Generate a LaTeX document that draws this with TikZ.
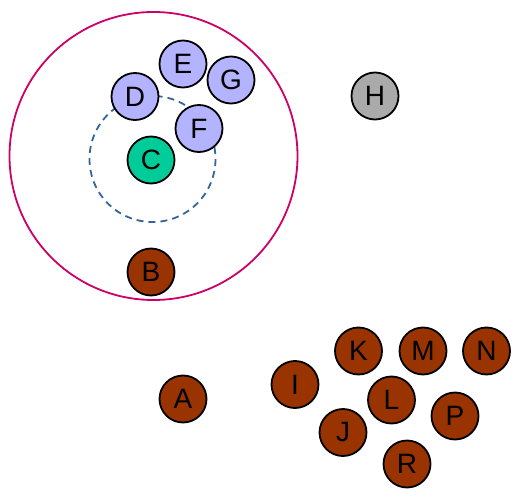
\documentclass[tikz,border=0pt]{standalone}
\usepackage{fontspec}
\setmainfont{Liberation Sans}
\definecolor{lav}{HTML}{B3B3FF}
\definecolor{teal2}{HTML}{00CC99}
\definecolor{brn}{HTML}{993300}
\definecolor{gry}{HTML}{AAAAAA}
\definecolor{ring}{HTML}{CC0066}
\definecolor{dring}{HTML}{336699}
\begin{document}
\begin{tikzpicture}[x=1pt,y=-1pt,
  ball/.style={circle,draw=black,line width=1.8pt,minimum size=47pt,inner sep=0pt,font=\fontsize{28}{28}\selectfont},
  lavball/.style={ball,fill=lav},
  brball/.style={ball,fill=brn},
  outer/.style={draw=ring,line width=1.8pt},
  inner/.style={draw=dring,line width=1.8pt,dash pattern=on 7pt off 5pt}]
\useasboundingbox (0,0) rectangle (519,497);
\draw[outer] (153.5,156) circle (144);
\draw[inner] (152.5,159) circle (63);
\node[ball,fill=teal2] (C) at (151,160) {C};
\node[lavball] (D) at (135,96.5) {D};
\node[lavball] (E) at (183,64) {E};
\node[lavball] (G) at (231,80) {G};
\node[lavball] (F) at (199,128.5) {F};
\node[ball,fill=gry] (H) at (375,96) {H};
\node[brball] (B) at (151,272) {B};
\node[brball] (A) at (183,399) {A};
\node[brball] (I) at (295,384.5) {I};
\node[brball] (K) at (358.5,351) {K};
\node[brball] (M) at (423,351) {M};
\node[brball] (N) at (486.5,351) {N};
\node[brball] (L) at (391.5,400) {L};
\node[brball] (P) at (455,416) {P};
\node[brball] (J) at (343,432.5) {J};
\node[brball] (R) at (407,464) {R};
\end{tikzpicture}
\end{document}
